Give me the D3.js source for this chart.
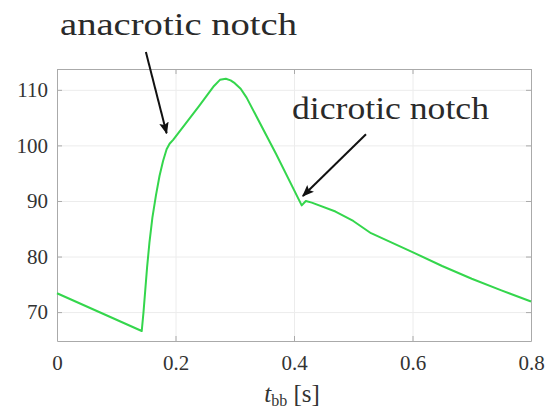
<!DOCTYPE html>
<html lang="en">
<head>
  <meta charset="UTF-8">
  <title>Pressure waveform notches</title>
  <script src="https://d3js.org/d3.v7.min.js"></script>
  <style>
    html, body { margin: 0; background: #fff; }
    svg { display: block; }
    .tick text { font-family: "Liberation Serif", serif; fill: #333; }
  </style>
</head>
<body>
  <svg id="chart" width="547" height="411"></svg>
  <script>
    // waveform samples
    const tValues = [0, 0.143, 0.146, 0.149, 0.152, 0.156, 0.161, 0.167, 0.173, 0.179, 0.185, 0.19, 0.196, 0.24, 0.265, 0.275, 0.285, 0.293, 0.3, 0.31, 0.32, 0.37, 0.413, 0.42, 0.43, 0.47, 0.5, 0.53, 0.6, 0.65, 0.7, 0.75, 0.8];
    const pValues = [73.4, 66.6, 70, 74, 78, 82.5, 87, 91, 94.5, 97.2, 99.3, 100.3, 101, 107.1, 110.7, 111.8, 112, 111.7, 111.2, 110.2, 108.6, 98.4, 89.2, 90, 89.7, 88.1, 86.4, 84.2, 80.8, 78.3, 76.0, 73.9, 71.9];
    const xTicks = [0, 0.2, 0.4, 0.6, 0.8];
    const yTicks = [70, 80, 90, 100, 110];
    const notes = ["anacrotic notch", "dicrotic notch"];
    // arrow [start t, start p, tip t, tip p]
    const arrows = [[0.150, 116.8, 0.185, 102.2], [0.5215, 102.0, 0.415, 90.9]];

    const svg = d3.select("#chart");
    const plotL = 57, plotR = 531, plotT = 69, plotB = 341;

    const x = d3.scaleLinear().domain([0, 0.8]).range([plotL, plotR]);
    const y = d3.scaleLinear().domain([64.8, 113.75]).range([plotB, plotT]);

    // grid
    svg.append("g")
      .attr("transform", `translate(0,${plotB})`)
      .call(d3.axisBottom(x).tickValues(xTicks).tickSize(-(plotB - plotT)).tickFormat(""))
      .call(g => g.select(".domain").remove())
      .selectAll("line").attr("stroke", "#ececec");
    svg.append("g")
      .attr("transform", `translate(${plotL},0)`)
      .call(d3.axisLeft(y).tickValues(yTicks).tickSize(-(plotR - plotL)).tickFormat(""))
      .call(g => g.select(".domain").remove())
      .selectAll("line").attr("stroke", "#ececec");

    // box axes with inward ticks
    const axisColor = "#aaa";
    const xAxis = svg.append("g")
      .attr("transform", `translate(0,${plotB})`)
      .call(d3.axisBottom(x).tickValues(xTicks).tickSizeInner(-5).tickSizeOuter(0).tickPadding(14)
        .tickFormat(d => d === 0 ? "0" : d3.format(".1f")(d)));
    xAxis.selectAll("text").style("font-size", "21px");
    const yAxis = svg.append("g")
      .attr("transform", `translate(${plotL},0)`)
      .call(d3.axisLeft(y).tickValues(yTicks).tickSizeInner(-5).tickSizeOuter(0).tickPadding(9));
    yAxis.selectAll("text").style("font-size", "21px");
    const topAxis = svg.append("g")
      .attr("transform", `translate(0,${plotT})`)
      .call(d3.axisTop(x).tickValues(xTicks).tickSizeInner(-5).tickSizeOuter(0).tickFormat(""));
    const rightAxis = svg.append("g")
      .attr("transform", `translate(${plotR},0)`)
      .call(d3.axisRight(y).tickValues(yTicks).tickSizeInner(-5).tickSizeOuter(0).tickFormat(""));
    [xAxis, yAxis, topAxis, rightAxis].forEach(g => {
      g.select(".domain").attr("stroke", axisColor);
      g.selectAll(".tick line").attr("stroke", axisColor);
    });

    // x label
    const xl = svg.append("text")
      .attr("x", (plotL + plotR) / 2 - 2)
      .attr("y", 402)
      .attr("text-anchor", "middle")
      .style("font-family", "Liberation Serif, serif")
      .style("font-size", "25px")
      .attr("fill", "#333");
    xl.append("tspan").style("font-style", "italic").text("t");
    xl.append("tspan").attr("dy", 4).style("font-size", "16px").text("bb");
    xl.append("tspan").attr("dy", -4).text("  [s]");

    // waveform
    const line = d3.line()
      .x((d, i) => x(tValues[i]))
      .y(d => y(d));
    svg.append("path")
      .datum(pValues)
      .attr("fill", "none")
      .attr("stroke", "#34d64c")
      .attr("stroke-width", 2)
      .attr("stroke-linejoin", "round")
      .attr("d", line);

    // arrows
    svg.append("defs").append("marker")
      .attr("id", "head")
      .attr("viewBox", "0 0 10 10")
      .attr("refX", 9).attr("refY", 5)
      .attr("markerWidth", 6).attr("markerHeight", 6)
      .attr("markerUnits", "strokeWidth")
      .attr("orient", "auto")
      .append("path").attr("d", "M0,1 L10,5 L0,9 L2,5 Z").attr("fill", "#111");
    svg.selectAll(".arrow")
      .data(arrows)
      .join("line")
      .attr("class", "arrow")
      .attr("x1", d => x(d[0])).attr("y1", d => y(d[1]))
      .attr("x2", d => x(d[2])).attr("y2", d => y(d[3]))
      .attr("stroke", "#111")
      .attr("stroke-width", 2)
      .attr("marker-end", "url(#head)");

    // notes
    svg.selectAll(".note")
      .data(notes)
      .join("text")
      .attr("class", "note")
      .attr("x", (d, i) => i === 0 ? 60 : 292)
      .attr("y", (d, i) => i === 0 ? 35 : 119)
      .attr("textLength", (d, i) => i === 0 ? 237 : 197)
      .attr("lengthAdjust", "spacingAndGlyphs")
      .style("font-family", "Liberation Serif, serif")
      .style("font-size", "31px")
      .attr("fill", "#2a2a2a")
      .text(d => d);
  </script>
</body>
</html>
